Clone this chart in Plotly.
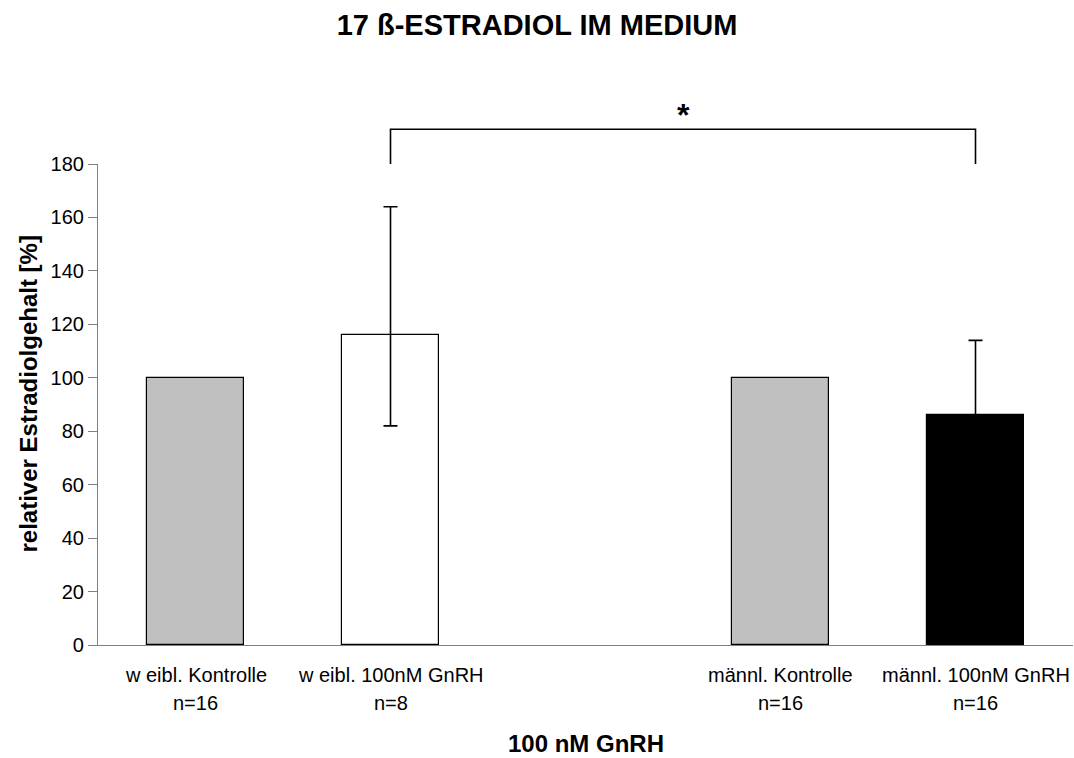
import plotly.graph_objects as go

# ---- data ----
categories = ["w eibl. Kontrolle", "w eibl. 100nM GnRH", "männl. Kontrolle", "männl. 100nM GnRH"]
n_labels = ["n=16", "n=8", "n=16", "n=16"]
slots = [0, 1, 3, 4]            # category slots (slot 2 left empty as gap)
values = [100, 116, 100, 86]
err_plus = [None, 48, None, 28]
err_minus = [None, 34, None, 28]
bar_colors = ["#C0C0C0", "#FFFFFF", "#C0C0C0", "#000000"]
y_ticks = [0, 20, 40, 60, 80, 100, 120, 140, 160, 180]
y_max = 180
bracket_top = 193
bracket_bottom = 180
bracket_from, bracket_to = 1, 3  # indices into categories

FONT = "Liberation Sans, Arial, sans-serif"

fig = go.Figure()
fig.add_trace(go.Bar(
    x=slots, y=values, width=0.5,
    marker=dict(color=bar_colors, line=dict(color="black", width=1.2)),
    hoverinfo="skip", showlegend=False,
))

ei = [i for i, e in enumerate(err_plus) if e is not None]
fig.add_trace(go.Scatter(
    x=[slots[i] for i in ei], y=[values[i] for i in ei], mode="markers",
    marker=dict(size=1, color="rgba(0,0,0,0)"),
    error_y=dict(type="data", symmetric=False,
                 array=[err_plus[i] for i in ei],
                 arrayminus=[err_minus[i] for i in ei],
                 color="black", thickness=1.6, width=7),
    hoverinfo="skip", showlegend=False,
))

annotations = []
for s, c, n in zip(slots, categories, n_labels):
    annotations.append(dict(x=s, xref="x", y=0, yref="paper", text=c, showarrow=False,
                            yanchor="middle", yshift=-30, font=dict(family=FONT, size=20, color="black")))
    annotations.append(dict(x=s, xref="x", y=0, yref="paper", text=n, showarrow=False,
                            yanchor="middle", yshift=-58, font=dict(family=FONT, size=20, color="black")))

annotations.append(dict(x=0.5, xref="paper", y=0, yref="paper", text="100 nM GnRH", showarrow=False,
                        yanchor="middle", yshift=-98,
                        font=dict(family=FONT, size=24, color="black", weight="bold")))
annotations.append(dict(x=0, xref="paper", y=0.5, yref="paper", text="relativer Estradiolgehalt [%]",
                        showarrow=False, textangle=-90, xanchor="center", yanchor="middle",
                        xshift=-70, yshift=10,
                        font=dict(family=FONT, size=24, color="black", weight="bold")))

xa, xb = slots[bracket_from], slots[bracket_to]
annotations.append(dict(x=(xa + xb) / 2, xref="x", y=bracket_top / y_max, yref="paper", text="*",
                        showarrow=False, yanchor="bottom", yshift=-6,
                        font=dict(family=FONT, size=32, color="black", weight="bold")))

shapes = [dict(type="path", xref="x", yref="paper",
               path=f"M {xa},{bracket_bottom / y_max} L {xa},{bracket_top / y_max} "
                    f"L {xb},{bracket_top / y_max} L {xb},{bracket_bottom / y_max}",
               line=dict(color="black", width=1.6))]

fig.update_layout(
    width=1074, height=758,
    margin=dict(l=98, r=1, t=164, b=113),
    paper_bgcolor="white", plot_bgcolor="white",
    title=dict(text="17 ß-ESTRADIOL IM MEDIUM", x=0.5, xanchor="center",
               yref="container", y=1 - 25 / 758, yanchor="middle",
               font=dict(family=FONT, size=29, color="black", weight="bold")),
    xaxis=dict(range=[-0.5, 4.5], showticklabels=False, ticks="", showgrid=False, zeroline=False,
               showline=True, linecolor="#808080", linewidth=1.2, fixedrange=True),
    yaxis=dict(range=[0, y_max], tickvals=y_ticks, ticks="outside", ticklen=9, tickcolor="#808080",
               tickwidth=1.2, showgrid=False, zeroline=False, showline=True, linecolor="#808080",
               linewidth=1.2, tickfont=dict(family=FONT, size=20, color="black"), fixedrange=True),
    annotations=annotations, shapes=shapes,
    bargap=0,
)

fig.write_html(
    "out.html",
    config={"displayModeBar": False},
    post_script="document.body.style.margin='0';document.body.style.overflow='hidden';",
)
